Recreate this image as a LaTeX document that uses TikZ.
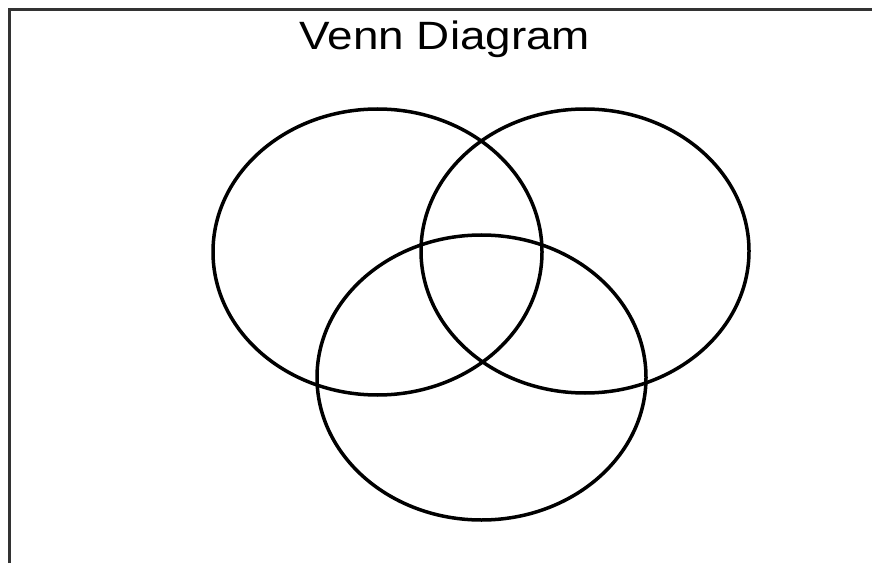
\documentclass[tikz,border=0pt]{standalone}
\usepackage{fontspec}
\setmainfont{Liberation Sans}
\begin{document}
\begin{tikzpicture}[x=1pt,y=1pt,
  venn/.style={draw=black,line width=3.5pt},
  frame/.style={draw=black!80,line width=3pt,line cap=butt}]
\useasboundingbox (0,0) rectangle (872,563);
\fill[white] (0,0) rectangle (872,563);
% frame (top and left edges)
\coordinate (fbl) at (9.5,0);
\coordinate (ftl) at (9.5,553.5);
\coordinate (ftr) at (872,553.5);
\draw[frame] (fbl) -- (ftl) -- (ftr);
% title
\node[anchor=base,inner sep=0pt,font=\fontsize{39.5}{42}\selectfont] (title) at (445,513) {\scalebox{1.16}[1]{Venn Diagram}};
% ellipse centres
\coordinate (cA) at (377.5,311);
\coordinate (cB) at (585,312);
\coordinate (cC) at (481.5,185.5);
\draw[venn] (cA) ellipse (164.5 and 143);
\draw[venn] (cB) ellipse (164 and 142);
\draw[venn] (cC) ellipse (164.5 and 142.5);
\end{tikzpicture}
\end{document}
